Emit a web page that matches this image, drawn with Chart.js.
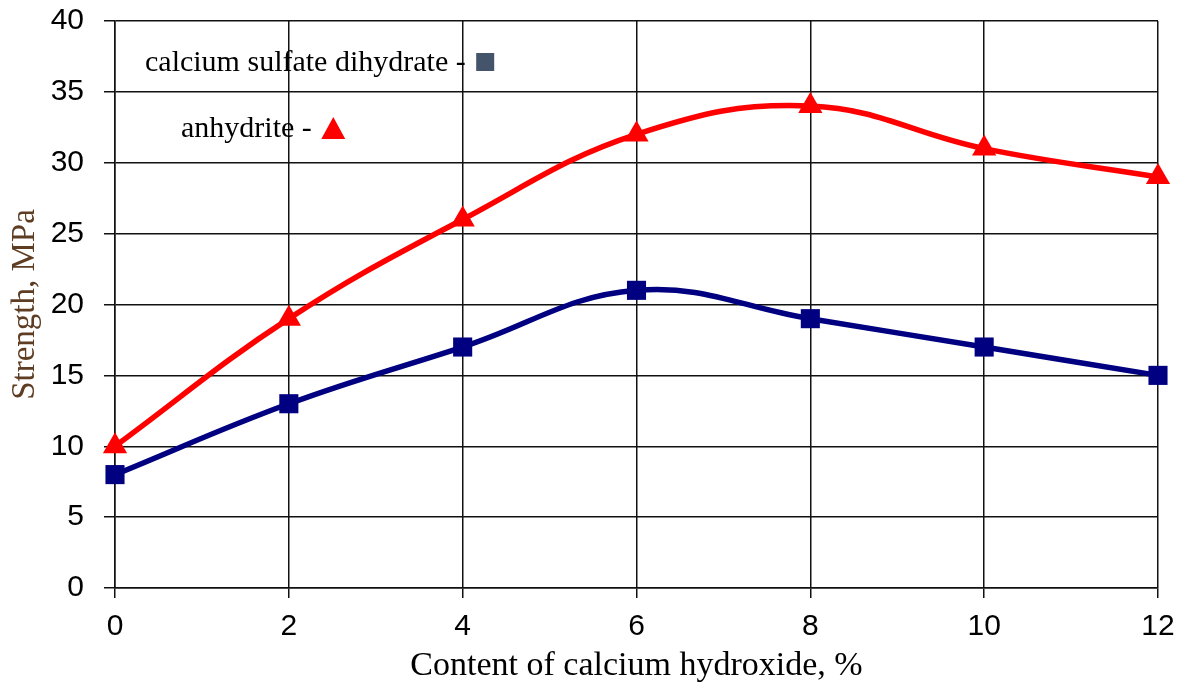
<!DOCTYPE html>
<html>
<head>
<meta charset="utf-8">
<script src="https://cdn.jsdelivr.net/npm/chart.js@4/dist/chart.umd.min.js"></script>
<style>
  html, body { margin: 0; padding: 0; background: #fff; }
  #wrap { width: 1180px; height: 686px; }
</style>
</head>
<body>
<div id="wrap"><canvas id="chart"></canvas></div>
<script>
// data
const contentPct = [0, 2, 4, 6, 8, 10, 12];
const dihydrateStrength = [8, 13, 17, 21, 19, 17, 15];
const anhydriteStrength = [10, 19, 26, 32, 34, 31, 29];
const xTicks = [0, 2, 4, 6, 8, 10, 12];
const yTicks = [0, 5, 10, 15, 20, 25, 30, 35, 40];

const dihydrateLabel = "calcium sulfate dihydrate";
const anhydriteLabel = "anhydrite";

function toPoints(xs, ys) {
  return xs.map((x, i) => ({ x: x, y: ys[i] }));
}

// draws the in-plot text legend like the original figure
const textLegend = {
  id: 'textLegend',
  afterDraw(chart) {
    const ctx = chart.ctx;
    ctx.save();
    ctx.font = '30px "Liberation Serif", "Times New Roman", serif';
    ctx.fillStyle = '#000';
    ctx.textBaseline = 'middle';
    ctx.textAlign = 'left';
    let t1 = dihydrateLabel + ' - ';
    ctx.fillText(t1, 145, 63);
    let w1 = ctx.measureText(t1).width;
    ctx.fillStyle = '#44546a';
    ctx.fillRect(145 + w1 + 3, 53, 18, 18);

    ctx.fillStyle = '#000';
    let t2 = anhydriteLabel + ' - ';
    ctx.fillText(t2, 181, 129);
    let w2 = ctx.measureText(t2).width;
    let cx = 181 + w2 + 14;
    ctx.fillStyle = '#ff0000';
    ctx.beginPath();
    ctx.moveTo(cx, 117);
    ctx.lineTo(cx + 12, 139);
    ctx.lineTo(cx - 12, 139);
    ctx.closePath();
    ctx.fill();
    ctx.restore();
  }
};

const ctx = document.getElementById('chart').getContext('2d');
const chart = new Chart(ctx, {
  type: 'line',
  data: {
    datasets: [
      {
        label: dihydrateLabel,
        data: toPoints(contentPct, dihydrateStrength),
        borderColor: '#000080',
        backgroundColor: '#000080',
        borderWidth: 5.5,
        tension: 0.4,
        clip: false,
        pointStyle: 'rect',
        pointRadius: 13.5,
        pointHoverRadius: 13.5,
        pointBorderWidth: 0
      },
      {
        label: anhydriteLabel,
        data: toPoints(contentPct, anhydriteStrength),
        borderColor: '#ff0000',
        backgroundColor: '#ff0000',
        borderWidth: 5.5,
        tension: 0.4,
        clip: false,
        pointStyle: 'triangle',
        pointRadius: 14,
        pointHoverRadius: 14,
        pointBorderWidth: 0
      }
    ]
  },
  options: {
    responsive: true,
    maintainAspectRatio: false,
    animation: false,
    layout: { padding: 0 },
    plugins: {
      legend: { display: false },
      tooltip: { enabled: false }
    },
    scales: {
      x: {
        type: 'linear',
        min: 0,
        max: 12,
        afterBuildTicks: (axis) => { axis.ticks = xTicks.map(v => ({ value: v })); },
        grid: { color: '#111', lineWidth: 1.5, tickLength: 10, tickColor: '#111' },
        border: { color: '#111', width: 1.5 },
        ticks: {
          color: '#000',
          padding: 11,
          font: { family: '"Liberation Sans", Arial, sans-serif', size: 30 }
        },
        title: {
          display: true,
          text: 'Content of calcium hydroxide, %',
          color: '#000',
          padding: { top: 0, bottom: 0 },
          font: { family: '"Liberation Serif", "Times New Roman", serif', size: 34 }
        },
        afterFit: (axis) => {
          axis.height = 98;
          axis.paddingLeft = 0;
          axis.paddingRight = 22;
        }
      },
      y: {
        min: 0,
        max: 40,
        afterBuildTicks: (axis) => { axis.ticks = yTicks.map(v => ({ value: v })); },
        grid: { color: '#111', lineWidth: 1.5, tickLength: 11, tickColor: '#111' },
        border: { color: '#111', width: 1.5 },
        ticks: {
          color: '#000',
          padding: 20,
          font: { family: '"Liberation Sans", Arial, sans-serif', size: 30 }
        },
        title: {
          display: true,
          text: 'Strength, MPa',
          color: '#5e3d22',
          padding: { top: 6, bottom: 0 },
          font: { family: '"Liberation Serif", "Times New Roman", serif', size: 33 }
        },
        afterFit: (axis) => {
          axis.width = 115;
          axis.paddingTop = 21;
          axis.paddingBottom = 0;
        }
      }
    }
  },
  plugins: [textLegend]
});
</script>
</body>
</html>
